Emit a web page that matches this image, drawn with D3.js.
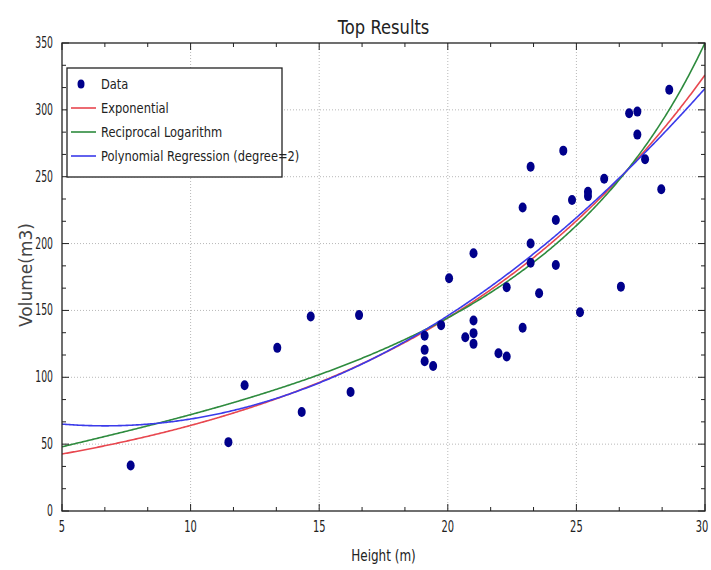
<!DOCTYPE html>
<html>
<head>
<meta charset="utf-8">
<script src="https://cdn.jsdelivr.net/npm/d3@7"></script>
<style>
  html, body { margin: 0; padding: 0; background: #ffffff; }
  svg { display: block; }
</style>
</head>
<body>
<svg id="chart" width="711" height="570"></svg>
<script>
// ---------------- data ----------------
const heights = [7.67, 11.47, 12.1, 13.37, 14.32, 14.67, 16.22, 16.55, 19.1, 19.1, 19.1, 19.43, 19.74, 20.05,
  20.68, 21.0, 21.0, 21.0, 21.0, 21.97, 22.29, 22.29, 22.91, 22.91, 23.22, 23.22, 23.22, 23.55, 24.2, 24.2,
  24.49, 24.83, 25.14, 25.45, 25.45, 26.08, 26.73, 27.05, 27.37, 27.37, 27.67, 28.3, 28.61];
const volumes = [34, 51.5, 94, 122, 74, 145.5, 89, 146.5, 131, 120.5, 112, 108.5, 139, 174,
  130, 192.7, 142.5, 133, 125, 118, 115.5, 167.3, 137, 227, 257.5, 200, 185.7, 162.8, 217.6, 184,
  269.5, 232.6, 148.6, 238.8, 235.5, 248.5, 167.8, 297.5, 298.7, 281.5, 263, 240.6, 315];

// fitted model parameters
const expParams = [28.36, 0.0814];          // y = a * exp(b x)
const recipLogParams = [0.03697, -0.01003]; // y = 1 / (a + b ln x)
const polyParams = [84.4, -6.2, 0.464];     // y = c0 + c1 x + c2 x^2

const seriesNames = ["Data", "Exponential", "Reciprocal Logarithm", "Polynomial Regression (degree=2)"];
const seriesColors = ["#00008b", "#e8474f", "#2e8b3e", "#3b3bea"];

const xTicks = [5, 10, 15, 20, 25, 30];
const yTicks = [0, 50, 100, 150, 200, 250, 300, 350];
const titleText = "Top Results";
const xLabel = "Height (m)";
const yLabel = "Volume(m3)";

// ---------------- layout ----------------
const svg = d3.select("#chart");
const L = 62, R = 705, T = 43, B = 511;
const x = d3.scaleLinear().domain([5, 30]).range([L, R]);
const y = d3.scaleLinear().domain([0, 350]).range([B, T]);
const FONT = "'DejaVu Sans', sans-serif";

// condensed text helper
function ctext(parent, tx, ty, str, size, sx, anchor, fill) {
  return parent.append("text")
    .attr("transform", `translate(${tx},${ty}) scale(${sx},1)`)
    .attr("text-anchor", anchor)
    .attr("font-family", FONT)
    .attr("font-size", size)
    .attr("fill", fill || "#222")
    .text(str);
}

// grid
const grid = svg.append("g");
grid.selectAll(".gx").data(xTicks.slice(1, -1)).join("line")
  .attr("x1", d => x(d)).attr("x2", d => x(d)).attr("y1", T).attr("y2", B)
  .attr("stroke", "#b8b8b8").attr("stroke-width", 1).attr("stroke-dasharray", "1,2");
grid.selectAll(".gy").data(yTicks.slice(1, -1)).join("line")
  .attr("x1", L).attr("x2", R).attr("y1", d => y(d)).attr("y2", d => y(d))
  .attr("stroke", "#b8b8b8").attr("stroke-width", 1).attr("stroke-dasharray", "1,2");

// clip
svg.append("clipPath").attr("id", "plotclip").append("rect")
  .attr("x", L).attr("y", T).attr("width", R - L).attr("height", B - T);

// curves
const xs = d3.range(5, 30.0001, 0.05);
const models = [
  v => expParams[0] * Math.exp(expParams[1] * v),
  v => 1 / (recipLogParams[0] + recipLogParams[1] * Math.log(v)),
  v => polyParams[0] + polyParams[1] * v + polyParams[2] * v * v
];
const line = d3.line().x(d => x(d[0])).y(d => y(d[1]));
const curves = svg.append("g").attr("clip-path", "url(#plotclip)");
models.forEach((f, i) => {
  curves.append("path")
    .attr("d", line(xs.map(v => [v, Math.min(f(v), 400)])))
    .attr("fill", "none")
    .attr("stroke", seriesColors[i + 1])
    .attr("stroke-width", 1.6);
});

// data points
svg.append("g").selectAll("ellipse").data(heights.map((h, i) => [h, volumes[i]])).join("ellipse")
  .attr("cx", d => x(d[0])).attr("cy", d => y(d[1]))
  .attr("rx", 4).attr("ry", 5)
  .attr("fill", seriesColors[0]);

// frame
svg.append("rect").attr("x", L).attr("y", T).attr("width", R - L).attr("height", B - T)
  .attr("fill", "none").attr("stroke", "#222").attr("stroke-width", 1.3);

// ticks (inward, all sides)
const ticksG = svg.append("g").attr("stroke", "#222").attr("stroke-width", 1);
const xMinor = d3.range(5, 30.001, 5 / 3);
const yMinor = d3.range(0, 350.001, 50 / 3);
xMinor.forEach(v => {
  const major = xTicks.some(t => Math.abs(t - v) < 1e-6);
  const len = major ? 7 : 4;
  ticksG.append("line").attr("x1", x(v)).attr("x2", x(v)).attr("y1", B).attr("y2", B - len);
  ticksG.append("line").attr("x1", x(v)).attr("x2", x(v)).attr("y1", T).attr("y2", T + len);
});
yMinor.forEach(v => {
  const major = yTicks.some(t => Math.abs(t - v) < 1e-6);
  const len = major ? 7 : 4;
  ticksG.append("line").attr("x1", L).attr("x2", L + len).attr("y1", y(v)).attr("y2", y(v));
  ticksG.append("line").attr("x1", R).attr("x2", R - len).attr("y1", y(v)).attr("y2", y(v));
});

// tick labels
const xl = svg.append("g");
xTicks.forEach(d => ctext(xl, Math.min(x(d), 702), 532, d, 15, 0.66, "middle"));
const yl = svg.append("g");
yTicks.forEach(d => ctext(yl, 53, y(d) + 5, d, 15, 0.62, "end"));

// title & axis labels
ctext(svg, (L + R) / 2, 34, titleText, 19, 0.86, "middle");
ctext(svg, (L + R) / 2, 561, xLabel, 15, 0.8, "middle");
svg.append("text")
  .attr("transform", `translate(32,${(T + B) / 2 - 2}) rotate(-90)`)
  .attr("text-anchor", "middle")
  .attr("font-family", FONT)
  .attr("font-size", 17).attr("fill", "#444").text(yLabel);

// legend
const lg = svg.append("g");
const lx = 67, ly = 68, lw = 215, lh = 109;
lg.append("rect").attr("x", lx).attr("y", ly).attr("width", lw).attr("height", lh)
  .attr("fill", "#fff").attr("stroke", "#222").attr("stroke-width", 1.3);
const rowY = [84, 108, 132, 156];
seriesNames.forEach((name, i) => {
  if (i === 0) {
    lg.append("ellipse").attr("cx", 81).attr("cy", rowY[i]).attr("rx", 3.5).attr("ry", 4.5)
      .attr("fill", seriesColors[0]);
  } else {
    lg.append("line").attr("x1", 71).attr("x2", 96).attr("y1", rowY[i]).attr("y2", rowY[i])
      .attr("stroke", seriesColors[i]).attr("stroke-width", 1.6);
  }
  ctext(lg, 101, rowY[i] + 5, name, 13.5, 0.85, "start");
});
</script>
</body>
</html>
